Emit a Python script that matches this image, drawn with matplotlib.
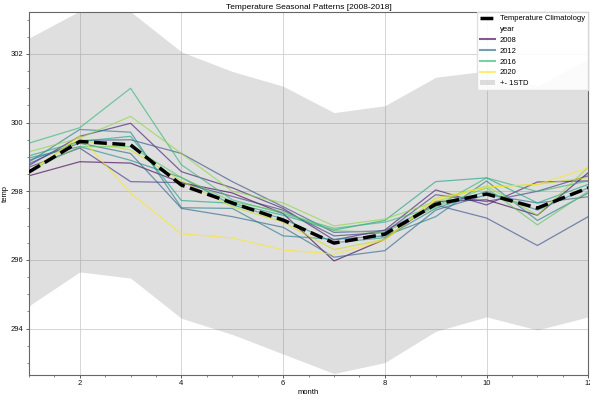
import matplotlib
matplotlib.use("Agg")
import matplotlib.pyplot as plt
import numpy as np
from matplotlib.lines import Line2D
from matplotlib.patches import Patch
from matplotlib.ticker import AutoMinorLocator

plt.rcParams["font.family"] = ["Liberation Sans", "DejaVu Sans"]

months = list(range(1, 13))
years = list(range(2008, 2021))

# monthly mean temperature per year
temp_by_year = {
    2008: [298.45, 298.86, 298.82, 298.25, 297.95, 297.35, 295.97, 296.60, 297.70, 297.75, 297.30, 298.54],
    2009: [298.75, 299.60, 299.98, 298.57, 298.10, 297.50, 296.58, 296.87, 298.04, 297.60, 298.27, 298.30],
    2010: [298.70, 299.26, 298.28, 298.25, 297.85, 297.45, 296.70, 296.80, 297.90, 297.70, 298.00, 298.45],
    2011: [298.80, 299.48, 299.50, 299.10, 298.28, 297.55, 296.80, 296.85, 297.60, 297.22, 296.42, 297.26],
    2012: [298.90, 299.40, 299.10, 297.50, 297.26, 296.95, 296.08, 296.27, 297.45, 297.90, 297.66, 297.84],
    2013: [298.85, 299.80, 299.72, 297.52, 297.50, 296.70, 296.60, 296.70, 297.26, 298.30, 297.15, 297.95],
    2014: [298.97, 299.30, 298.90, 298.40, 297.60, 297.20, 296.50, 296.65, 297.50, 298.00, 297.45, 298.10],
    2015: [299.03, 299.45, 299.60, 297.73, 297.65, 297.30, 296.87, 297.15, 298.28, 298.39, 297.66, 298.20],
    2016: [299.40, 299.85, 301.00, 298.77, 297.75, 297.35, 296.92, 297.10, 297.55, 298.39, 297.99, 298.30],
    2017: [298.60, 299.30, 299.30, 298.40, 297.70, 297.40, 296.85, 296.80, 297.55, 298.10, 297.02, 298.00],
    2018: [299.15, 299.55, 300.18, 299.10, 298.00, 297.66, 296.99, 297.19, 297.70, 298.15, 297.30, 298.70],
    2019: [298.60, 299.50, 299.20, 298.30, 297.55, 297.10, 296.30, 296.60, 297.80, 298.12, 298.20, 298.40],
    2020: [298.55, 299.60, 297.95, 296.76, 296.64, 296.29, 296.17, 296.58, 297.75, 298.12, 298.20, 298.68],
}
climatology = [298.56, 299.45, 299.35, 298.18, 297.66, 297.16, 296.49, 296.75, 297.62, 297.92, 297.51, 298.10]
clim_std = [3.90, 3.80, 3.88, 3.88, 3.83, 3.90, 3.80, 3.74, 3.70, 3.58, 3.55, 3.76]
legend_years = [2008, 2012, 2016, 2020]

fig = plt.figure(figsize=(5.9, 4.01), dpi=100)
ax = fig.add_axes([0.049, 0.065, 0.948, 0.905])

cmap = plt.get_cmap("viridis")
norm = plt.Normalize(min(years), max(years))

clim = np.array(climatology)
std = np.array(clim_std)
ax.fill_between(months, clim - std, clim + std, color="grey", alpha=0.25, linewidth=0, zorder=1)

for yr in years:
    ax.plot(months, temp_by_year[yr], color=cmap(norm(yr)), alpha=0.65, linewidth=0.9, zorder=2)

ax.plot(months, climatology, color="black", linestyle="--", linewidth=2.5, zorder=3)

ax.set_xlim(1, 12)
ax.set_ylim(292.65, 303.22)
ax.set_xticks([2, 4, 6, 8, 10, 12])
ax.set_yticks([294, 296, 298, 300, 302])
ax.xaxis.set_minor_locator(AutoMinorLocator(4))
ax.yaxis.set_minor_locator(AutoMinorLocator(4))
ax.tick_params(which="major", direction="out", length=2.5, width=0.6, labelsize=5.5,
               colors="#444444", labelcolor="#111111", pad=1.5)
ax.tick_params(which="minor", direction="out", length=1.5, width=0.5, colors="#555555")
ax.grid(True, which="major", color="#cfcfcf", linewidth=0.6, zorder=0)
ax.set_axisbelow(True)
for sp in ax.spines.values():
    sp.set_color("#666666")
    sp.set_linewidth(0.8)

ax.set_title("Temperature Seasonal Patterns [2008-2018]", fontsize=6, pad=2)
ax.set_xlabel("month", fontsize=5.5, labelpad=1)
ax.set_ylabel("temp", fontsize=5.5, labelpad=1)

handles = [Line2D([], [], color="black", linestyle="--", linewidth=2.5),
           Line2D([], [], color="none")]
labels = ["Temperature Climatology", "year"]
for yr in legend_years:
    handles.append(Line2D([], [], color=cmap(norm(yr)), alpha=0.65, linewidth=1.5))
    labels.append(str(yr))
handles.append(Patch(facecolor="grey", alpha=0.25, edgecolor="none"))
labels.append("+- 1STD")
ax.legend(handles, labels, loc="upper right", fontsize=5.5, frameon=True, fancybox=False,
          framealpha=0.9, edgecolor="#dddddd", handlelength=2.0, handletextpad=0.6,
          labelspacing=0.45, borderaxespad=0.0)

fig.savefig("out.png", dpi=100)
